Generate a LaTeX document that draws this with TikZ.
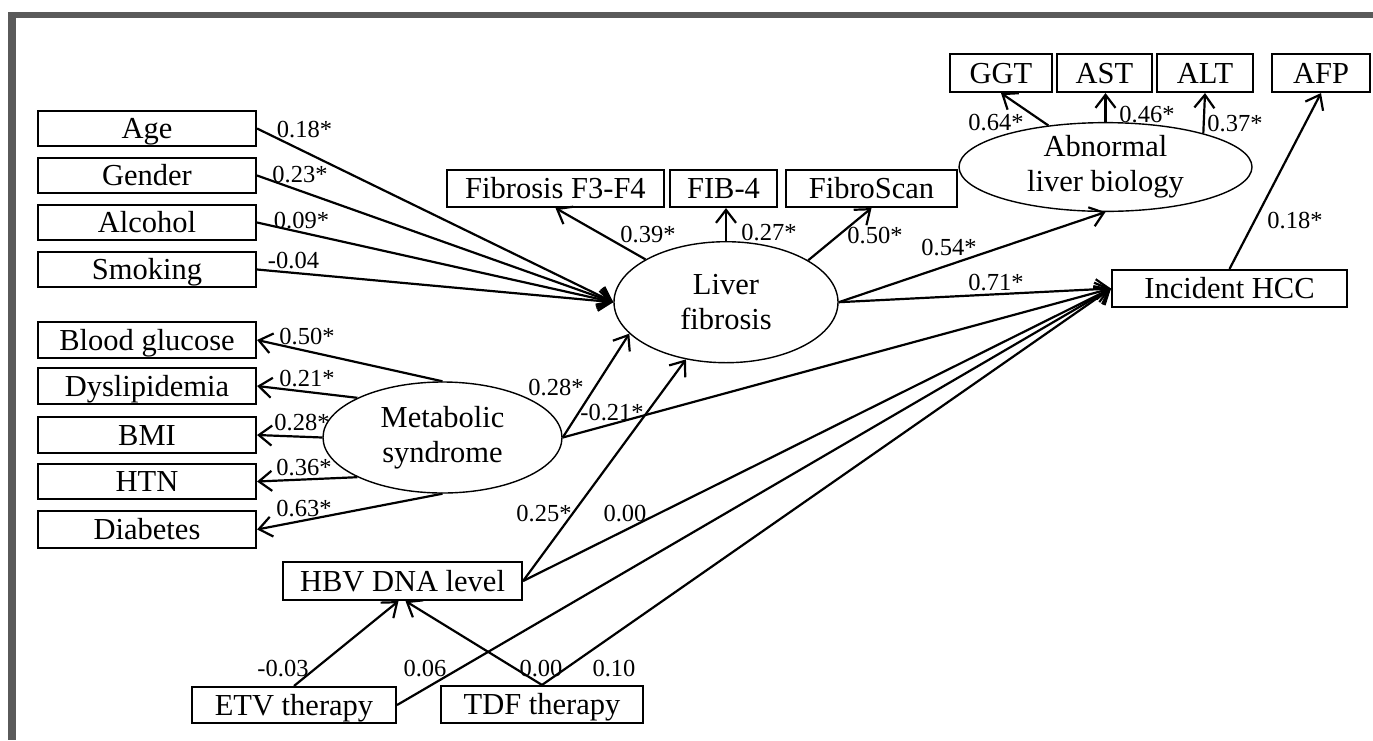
\documentclass[tikz,border=0pt]{standalone}
\usepackage{fontspec}
\setmainfont{Liberation Serif}
\usetikzlibrary{shapes.geometric,arrows.meta}
\definecolor{framegray}{HTML}{5A5A5A}
\begin{document}
\begin{tikzpicture}[x=1pt,y=-1pt,
  box/.style={draw, line width=2.1pt, inner sep=0pt, font=\fontsize{30.5}{34}\selectfont, text height=20pt, text depth=0pt},
  lat/.style={draw, ellipse, line width=1.4pt, inner sep=0pt, align=center, font=\fontsize{30.5}{35}\selectfont},
  lab/.style={inner sep=0pt, font=\fontsize{24.5}{28}\selectfont, text height=16pt, text depth=0pt},
  arr/.style={line width=2.2pt, -{Straight Barb[length=13pt,width=20pt]}}]
\useasboundingbox (0,0) rectangle (1373,740);
\fill[framegray] (8,12) rectangle (1373,17.5);
\fill[framegray] (8,12) rectangle (16,740);

% left boxes
\node[box, minimum width=218pt, minimum height=35pt] (age) at (147,128.5) {Age};
\node[box, minimum width=218pt, minimum height=35pt] (gen) at (147,175.5) {Gender};
\node[box, minimum width=218pt, minimum height=35pt] (alc) at (147,222.5) {Alcohol};
\node[box, minimum width=218pt, minimum height=35pt] (smk) at (147,269.5) {Smoking};
\node[box, minimum width=218pt, minimum height=36pt] (bg) at (147,340) {Blood glucose};
\node[box, minimum width=218pt, minimum height=36pt] (dys) at (147,386) {Dyslipidemia};
\node[box, minimum width=218pt, minimum height=36pt] (bmi) at (147,435) {BMI};
\node[box, minimum width=218pt, minimum height=35pt] (htn) at (147,481.5) {HTN};
\node[box, minimum width=218pt, minimum height=37pt] (dia) at (147,529.5) {Diabetes};

% top boxes
\node[box, minimum width=217pt, minimum height=37pt] (f34) at (555.5,188.5) {Fibrosis F3-F4};
\node[box, minimum width=107pt, minimum height=37pt] (fib4) at (723.5,188.5) {FIB-4};
\node[box, minimum width=171pt, minimum height=37pt] (fs) at (871.5,188.5) {FibroScan};
\node[box, minimum width=102pt, minimum height=38pt] (ggt) at (1001,73) {GGT};
\node[box, minimum width=95pt, minimum height=38pt] (ast) at (1104.5,73) {AST};
\node[box, minimum width=96pt, minimum height=38pt] (alt) at (1205,73) {ALT};
\node[box, minimum width=98pt, minimum height=38pt] (afp) at (1321,73) {AFP};

% other boxes
\node[box, minimum width=235pt, minimum height=37pt] (hcc) at (1229.5,288.5) {Incident HCC};
\node[box, minimum width=239pt, minimum height=38pt] (hbv) at (402.5,581) {HBV DNA level};
\node[box, minimum width=204pt, minimum height=36pt] (etv) at (294,705) {ETV therapy};
\node[box, minimum width=202pt, minimum height=37pt] (tdf) at (542,704.5) {TDF therapy};

% latent variables
\node[lat, minimum width=224pt, minimum height=121pt] (lf) at (726,302.2) {Liver\\fibrosis};
\node[lat, minimum width=239pt, minimum height=111pt] (ms) at (442.5,437.5) {Metabolic\\syndrome};
\node[lat, minimum width=293pt, minimum height=80pt] (alb) at (1105.5,167) {Abnormal\\liver biology};

% connectors into liver fibrosis
\draw[arr] (age.east) -- (lf.west);
\draw[arr] (gen.east) -- (lf.west);
\draw[arr] (alc.east) -- (lf.west);
\draw[arr] (smk.east) -- (lf.west);
\draw[arr] (ms.east) -- (lf.198.6);
\draw[arr] (hbv.east) -- (lf.235.6);

% metabolic indicators
\draw[arr] (ms.north) -- (bg.east);
\draw[arr] (ms.155) -- (dys.east);
\draw[arr] (ms.west) -- (bmi.east);
\draw[arr] (ms.205) -- (htn.east);
\draw[arr] (ms.south) -- (dia.east);

% liver fibrosis indicators
\draw[arr] (lf.152) -- (f34.south);
\draw[arr] (lf.north) -- (lf.north |- fib4.south);
\draw[arr] (lf.27.4) -- (fs.south);
\draw[arr] (lf.east) -- (alb.south);

% abnormal liver biology indicators
\draw[arr] (alb.144.9) -- (ggt.south);
\draw[arr] (alb.north) -- (alb.north |- ast.south);
\draw[arr] (alb.19.1) -- (alt.south);

% into incident HCC
\draw[arr] (lf.east) -- (hcc.west);
\draw[arr] (ms.east) -- (hcc.west);
\draw[arr] (hbv.east) -- (hcc.west);
\draw[arr] (etv.east) -- (hcc.west);
\draw[arr] (tdf.north) -- (hcc.west);
\draw[arr] (hcc.north) -- (afp.south);

% therapy to HBV
\draw[arr] (etv.north) -- ([xshift=-4pt]hbv.south);
\draw[arr] (tdf.north) -- ([xshift=3pt]hbv.south);

% labels
\node[lab] (l1) at (304.5,129.5) {0.18*};
\node[lab] (l2) at (300,174.5) {0.23*};
\node[lab] (l3) at (301.5,220.5) {0.09*};
\node[lab] (l4) at (293.5,260) {-0.04};
\node[lab] (l5) at (307,336) {0.50*};
\node[lab] (l6) at (307,378) {0.21*};
\node[lab] (l7) at (302,422) {0.28*};
\node[lab] (l8) at (304,467) {0.36*};
\node[lab] (l9) at (304,508) {0.63*};
\node[lab] (l10) at (556,387) {0.28*};
\node[lab] (l11) at (612,412) {-0.21*};
\node[lab] (l12) at (544,513) {0.25*};
\node[lab] (l13) at (625,513) {0.00};
\node[lab] (l14) at (283,668) {-0.03};
\node[lab] (l15) at (425,668) {0.06};
\node[lab] (l16) at (541,668) {0.00};
\node[lab] (l17) at (614,668) {0.10};
\node[lab] (l18) at (648,234) {0.39*};
\node[lab] (l19) at (769,232) {0.27*};
\node[lab] (l20) at (875,235) {0.50*};
\node[lab] (l21) at (949,247) {0.54*};
\node[lab] (l22) at (996,282) {0.71*};
\node[lab] (l23) at (996,122) {0.64*};
\node[lab] (l24) at (1147,114) {0.46*};
\node[lab] (l25) at (1235,123) {0.37*};
\node[lab] (l26) at (1295,220) {0.18*};
\end{tikzpicture}
\end{document}
